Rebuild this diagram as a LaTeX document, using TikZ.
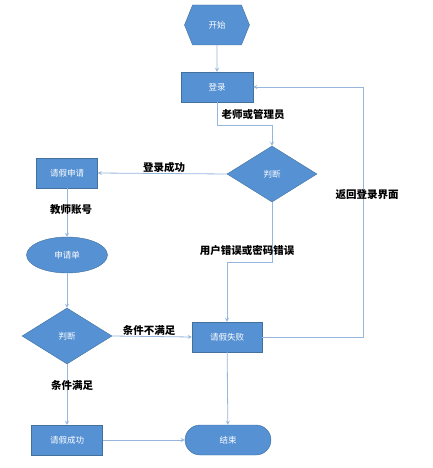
\documentclass[tikz,border=0pt]{standalone}
\usepackage{fontspec}
\setmainfont{Noto Sans CJK SC}
\usetikzlibrary{shapes.geometric,shapes.symbols}
\definecolor{boxblue}{RGB}{86,145,212}
\definecolor{boxedge}{RGB}{65,113,156}
\definecolor{lineblue}{RGB}{150,182,220}

\begin{document}
\begin{tikzpicture}[x=1pt,y=-1pt]
        \tikzstyle{every node}+=[font=\fontsize{8.5}{9}\selectfont]
        \tikzstyle{blk}=[draw=boxedge, fill=boxblue, text=white, inner sep=0pt]
        \tikzstyle{proc}=[blk, rectangle, minimum width=71pt, minimum height=30pt]
        \tikzstyle{judge}=[blk, diamond, minimum width=90pt, minimum height=56pt]
        \tikzstyle{flow}=[lineblue, line width=0.8pt, ->, >=stealth]
        \tikzstyle{lbl}=[font=\fontsize{10.5}{11}\selectfont\bfseries, text=black]
        \useasboundingbox (0,0) rectangle (432,468);
        % nodes
        \node [blk, signal, signal to=east and west, signal pointer angle=136,
               minimum width=65pt, minimum height=40pt] (start) at (217,25) {开始};
        \node [proc, minimum width=72pt] (login) at (217,87) {登录};
        \node [judge] (judge1) at (272,174) {判断};
        \node [proc, minimum width=61pt] (apply) at (67,173) {请假申请};
        \node [blk, ellipse, minimum width=81pt, minimum height=36pt] (form) at (67,255) {申请单};
        \node [judge] (judge2) at (67,336) {判断};
        \node [proc, minimum width=70pt] (fail) at (227,337) {请假失败};
        \node [proc] (ok) at (67,440) {请假成功};
        \node [blk, rectangle, rounded corners=15pt, minimum width=86pt, minimum height=30pt] (end) at (228,440) {结束};
        % bends
        \coordinate (bendA) at (272,125);
        \coordinate (bendB) at (227,262);
        \coordinate (bendC) at (363,337);
        % connectors
        \draw [flow] (start) -- (login);
        \draw [flow] (login.south) |- (bendA) -- (judge1.north);
        \node [lbl] (tLogin) at (253,115) {老师或管理员};
        \draw [flow] (judge1.west) -- (apply.east);
        \node [lbl] (tOk) at (164,167) {登录成功};
        \draw [flow] (apply) -- (form);
        \node [lbl] (tAcct) at (71,210) {教师账号};
        \draw [flow] (form) -- (judge2);
        \draw [flow] (judge2.east) -- (fail.west);
        \node [lbl] (tNo) at (149,330) {条件不满足};
        \draw [flow] (judge2.south) -- (ok.north);
        \node [lbl] (tYes) at (72,385) {条件满足};
        \draw [flow] (ok) -- (end);
        \draw [flow] (fail) -- (end);
        \draw [flow] (judge1.south) |- (bendB) -- (fail.north);
        \node [lbl] (tErr) at (247,250) {用户错误或密码错误};
        \draw [flow] (fail.east) -- (bendC) |- (login.east);
        \node [lbl] (tBack) at (367,195) {返回登录界面};
\end{tikzpicture}
\end{document}
